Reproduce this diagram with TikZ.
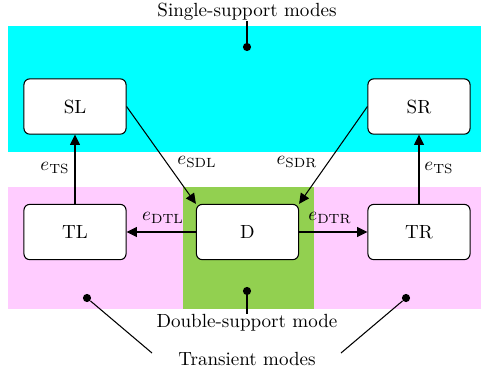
\documentclass[tikz,border=0pt]{standalone}
\usetikzlibrary{arrows.meta}
\definecolor{ssupport}{RGB}{0,255,255}
\definecolor{transient}{RGB}{255,204,255}
\definecolor{dsupport}{RGB}{146,208,80}
\begin{document}
\begin{tikzpicture}[x=0.525pt,y=-0.525pt,
  mode/.style={draw,rounded corners=3pt,fill=white,minimum width=53.6pt,minimum height=29pt,inner sep=0pt,line width=0.55pt},
  trans/.style={-{Triangle[length=5.4pt,width=5.2pt]},line width=0.55pt},
  pin/.style={line width=0.55pt},
  dot/.style={circle,fill=black,inner sep=0pt,minimum size=4.3pt},
  lbl/.style={inner sep=0pt}]
\useasboundingbox (0,0) rectangle (481,375);
% mode regions
\fill[ssupport] (8,26) rectangle (481,152);
\fill[transient] (8,187) rectangle (481,309);
\fill[dsupport] (183,187) rectangle (314,309);
% states
\node[mode] (SL) at (75,106.5) {SL};
\node[mode] (SR) at (419,106.5) {SR};
\node[mode] (TL) at (75,232) {TL};
\node[mode] (D)  at (247.5,232) {D};
\node[mode] (TR) at (419,232) {TR};
% transitions
\draw[trans] (TL) -- (SL);
\draw[trans] (TR) -- (SR);
\draw[trans] (SL.east) -- (D.north west);
\draw[trans] (SR.west) -- (D.north east);
\draw[trans] (D) -- (TL);
\draw[trans] (D) -- (TR);
\node[lbl] (lTSl) at (55,168) {$e_{\mathrm{TS}}$};
\node[lbl] (lTSr) at (439,168) {$e_{\mathrm{TS}}$};
\node[lbl] (lSDL) at (197,162) {$e_{\mathrm{SDL}}$};
\node[lbl] (lSDR) at (297,162) {$e_{\mathrm{SDR}}$};
\node[lbl] (lDTL) at (163,218) {$e_{\mathrm{DTL}}$};
\node[lbl] (lDTR) at (330,218) {$e_{\mathrm{DTR}}$};
% region captions
\node[lbl] (single) at (247,12) {Single-support modes};
\node[dot] (sdot) at (247,47) {};
\draw[pin] (sdot) -- (single);
\node[lbl] (double) at (247,323) {Double-support mode};
\node[dot] (ddot) at (247,291) {};
\draw[pin] (ddot) -- (double);
\node[lbl] (transient) at (247,359) {Transient modes};
\node[dot] (tdotL) at (87,298) {};
\node[dot] (tdotR) at (406,298) {};
\coordinate (tendL) at (152,353);
\coordinate (tendR) at (341,353);
\draw[pin] (tdotL) -- (tendL);
\draw[pin] (tdotR) -- (tendR);
\end{tikzpicture}
\end{document}
